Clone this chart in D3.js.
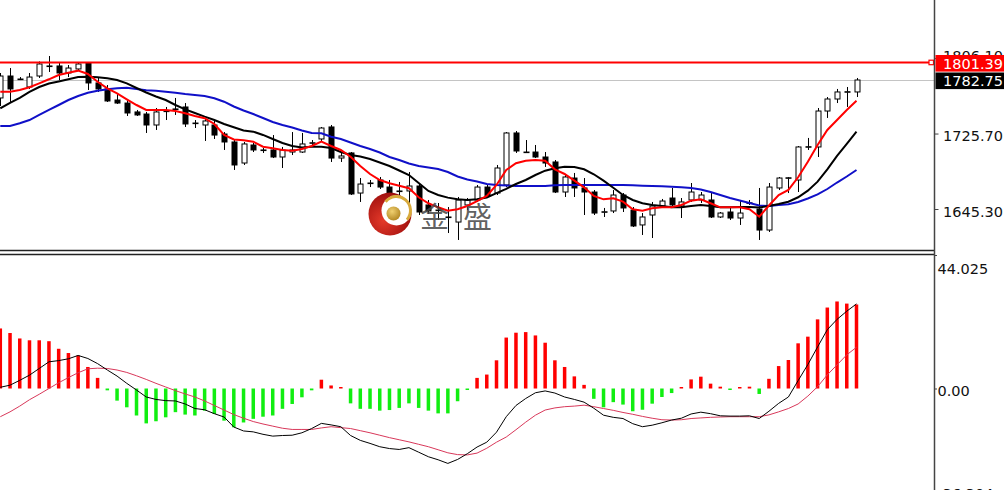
<!DOCTYPE html>
<html><head><meta charset="utf-8">
<script src="https://cdn.jsdelivr.net/npm/d3@7/dist/d3.min.js"></script>
<style>html,body{margin:0;padding:0;background:#fff;overflow:hidden}svg{display:block}</style>
</head><body>
<svg id="c" width="1004" height="490"></svg>
<script>
// ---------- DATA ----------
const openP=[1763.6,1787.0,1783.8,1775.3,1787.0,1797.7,1797.7,1790.2,1794.5,1800.9,
1779.6,1773.2,1761.4,1758.2,1748.7,1746.5,1734.8,1749.7,1751.9,1754.0,
1736.9,1734.8,1734.8,1725.2,1716.7,1694.3,1713.5,1708.2,1708.2,1700.7,
1706.0,1706.0,1715.6,1719.9,1732.7,1699.6,1705.0,1662.3,1673.0,1676.2,
1668.7,1664.5,1664.5,1669.8,1649.6,1644.2,1636.8,1631.4,1649.6,1654.9,
1668.7,1662.3,1670.9,1726.3,1706.0,1706.0,1700.7,1695.4,1663.4,1678.3,
1667.7,1663.4,1642.1,1643.2,1660.2,1644.2,1628.3,1638.9,1648.5,1657.0,
1648.5,1654.9,1654.9,1654.9,1636.8,1642.1,1635.7,1651.7,1645.3,1622.9,
1667.7,1678.3,1676.2,1711.4,1711.4,1749.7,1762.5,1770.0,1770.0];
const highP=[1790.2,1795.5,1785.9,1790.2,1802.5,1808.3,1800.9,1798.7,1801.9,1801.9,
1785.9,1777.4,1768.9,1761.4,1750.8,1748.7,1752.9,1754.0,1763.6,1758.2,
1740.1,1742.3,1740.1,1727.3,1719.9,1716.7,1715.6,1710.3,1724.1,1711.4,
1727.3,1726.3,1718.8,1732.7,1734.8,1706.0,1706.0,1678.3,1676.2,1679.4,
1676.2,1674.1,1684.7,1671.9,1654.9,1651.7,1647.4,1658.1,1657.0,1670.9,
1670.9,1692.2,1727.3,1728.4,1718.8,1713.5,1706.0,1697.5,1681.5,1683.7,
1678.3,1665.5,1646.4,1665.5,1662.3,1647.4,1641.0,1652.8,1656.0,1667.7,
1657.0,1673.0,1663.4,1663.4,1642.1,1646.4,1654.9,1654.9,1667.7,1673.0,
1679.4,1679.4,1712.4,1721.0,1752.9,1764.6,1773.2,1775.3,1784.9];
const lowP=[1755.0,1759.3,1782.7,1773.2,1784.9,1791.3,1782.7,1785.9,1792.3,1772.1,
1770.0,1759.3,1757.2,1744.4,1744.4,1726.3,1729.5,1740.1,1745.5,1732.7,
1731.6,1717.8,1719.9,1708.2,1686.9,1692.2,1706.0,1705.0,1699.6,1689.0,
1702.8,1705.0,1711.4,1716.7,1695.4,1695.4,1660.2,1652.8,1668.7,1666.6,
1660.2,1652.8,1651.7,1638.9,1640.0,1633.6,1619.7,1612.3,1644.2,1652.8,
1658.1,1660.2,1668.7,1705.0,1705.0,1699.6,1690.1,1662.3,1658.1,1658.1,
1638.9,1638.9,1636.8,1641.0,1642.1,1626.1,1617.6,1614.4,1647.4,1647.4,
1635.7,1652.8,1651.7,1635.7,1635.7,1633.6,1628.3,1649.6,1612.3,1620.8,
1665.5,1662.3,1663.4,1708.2,1700.7,1742.3,1758.2,1754.0,1764.6];
const closeP=[1787.0,1773.2,1783.5,1785.9,1799.8,1797.4,1790.2,1795.5,1799.8,1779.6,
1773.2,1760.4,1758.2,1747.6,1745.5,1734.8,1748.7,1749.4,1751.5,1735.9,
1736.6,1739.1,1724.1,1716.7,1692.2,1714.6,1708.2,1707.9,1700.7,1708.2,
1708.2,1714.6,1715.9,1731.6,1699.6,1701.8,1661.3,1671.9,1672.7,1668.7,
1662.3,1664.2,1669.8,1642.1,1643.2,1644.0,1636.5,1654.9,1654.9,1668.7,
1659.2,1689.0,1726.3,1707.1,1705.7,1700.7,1694.3,1663.4,1679.4,1667.7,
1663.4,1641.0,1642.4,1660.2,1646.4,1627.2,1636.8,1648.5,1653.8,1649.6,
1652.8,1663.4,1660.2,1636.8,1641.0,1635.7,1641.0,1651.9,1622.9,1668.7,
1678.3,1678.6,1711.4,1711.7,1749.7,1762.5,1770.0,1770.3,1782.75];

const maFast=[1770.3,1770.3,1772.1,1775.0,1779.2,1783.5,1788.1,1790.5,1792.7,1789.2,
1780.9,1773.9,1768.6,1762.2,1756.1,1750.8,1750.8,1750.8,1749.7,1747.3,
1744.4,1742.0,1735.9,1724.2,1719.4,1718.5,1717.0,1711.7,1710.0,1708.2,
1707.4,1709.2,1712.4,1717.0,1712.4,1708.2,1701.0,1691.1,1682.6,1676.2,
1672.7,1670.1,1667.4,1657.8,1651.4,1647.1,1643.5,1645.0,1648.5,1653.8,
1659.2,1670.9,1686.9,1694.0,1696.8,1697.5,1696.8,1687.6,1682.6,1675.5,
1668.4,1659.2,1655.6,1656.7,1653.1,1645.0,1643.5,1646.1,1647.1,1647.1,
1649.6,1654.2,1655.6,1651.4,1647.1,1647.1,1647.1,1645.0,1637.1,1649.0,
1660.2,1665.6,1679.1,1695.7,1713.5,1729.5,1740.1,1750.8,1760.7];
const maMid=[1752.6,1758.3,1763.6,1770.0,1775.3,1779.0,1781.2,1783.5,1786.0,1786.3,
1785.6,1784.6,1782.8,1779.2,1774.2,1769.4,1765.2,1761.4,1756.1,1751.5,
1747.6,1743.7,1740.1,1735.9,1732.4,1729.0,1727.7,1724.2,1719.9,1715.6,
1712.4,1710.8,1711.6,1711.7,1710.3,1706.0,1702.8,1701.2,1698.6,1694.9,
1691.1,1686.3,1681.5,1673.0,1664.5,1660.2,1657.4,1655.6,1654.9,1655.6,
1657.6,1662.3,1666.8,1671.9,1676.2,1681.5,1686.1,1688.7,1690.4,1690.1,
1687.6,1682.3,1675.5,1668.0,1660.2,1654.9,1651.4,1649.6,1648.5,1647.1,
1647.1,1648.5,1649.6,1648.5,1647.1,1647.1,1647.4,1647.4,1646.9,1648.5,
1650.6,1653.1,1657.8,1664.8,1674.4,1687.6,1701.8,1714.6,1727.7];
const maSlow=[1733.7,1733.7,1736.6,1740.1,1745.5,1750.8,1756.1,1761.4,1765.7,1769.2,
1771.4,1772.9,1773.9,1774.6,1773.2,1771.8,1771.4,1770.3,1769.2,1767.8,
1766.8,1765.7,1763.3,1759.6,1754.5,1750.3,1746.5,1742.3,1738.0,1734.8,
1732.1,1729.0,1726.3,1726.0,1722.3,1719.9,1716.2,1712.4,1709.2,1705.5,
1700.7,1697.5,1693.8,1691.1,1689.5,1687.9,1684.7,1679.9,1676.7,1674.6,
1671.9,1670.9,1670.3,1669.8,1669.8,1669.8,1669.8,1670.6,1670.9,1670.9,
1670.9,1670.9,1670.9,1670.9,1670.9,1670.6,1670.1,1669.8,1669.5,1669.1,
1668.4,1667.7,1666.1,1663.4,1660.2,1657.0,1654.4,1651.7,1649.0,1648.5,
1649.6,1650.3,1652.8,1656.5,1660.8,1666.6,1673.5,1679.9,1686.9];

const macdHist=[19.8,18.3,16.5,15.9,15.9,15.6,13.1,11.7,10.9,7.1,
3.5,-0.6,-4.0,-6.2,-8.9,-11.5,-10.8,-9.5,-7.8,-8.6,
-8.9,-7.3,-8.4,-10.6,-12.8,-11.2,-10.0,-9.3,-8.9,-6.7,
-5.1,-2.9,-0.6,2.9,1.0,0.4,-4.9,-6.7,-6.7,-7.3,
-7.1,-6.4,-4.9,-6.4,-7.3,-8.2,-8.2,-4.2,-0.3,3.5,
4.6,9.3,16.8,18.4,18.6,17.5,15.1,9.3,7.1,4.0,
1.2,-3.4,-6.2,-4.5,-5.3,-7.5,-7.0,-5.0,-2.8,-1.5,
0.4,3.0,3.9,1.6,0.6,-0.3,0.4,0.6,-1.8,3.2,
7.4,9.4,14.9,17.1,22.8,26.7,28.7,28.0,27.7];
const macdLine=[0.4,1.1,2.7,4.4,6.6,8.8,9.2,9.8,10.9,9.9,
8.2,6.1,4.1,1.7,-0.5,-2.8,-3.6,-4.0,-4.1,-5.1,
-6.6,-7.0,-8.3,-9.4,-12.7,-14.0,-14.3,-15.1,-15.7,-15.5,
-15.4,-14.6,-13.2,-11.5,-12.0,-12.6,-15.5,-17.1,-18.1,-19.2,
-19.8,-20.1,-19.5,-21.0,-22.5,-23.5,-24.7,-23.4,-21.5,-19.3,
-17.7,-14.4,-9.3,-5.6,-3.3,-1.4,-0.8,-1.5,-2.8,-3.6,
-4.5,-6.5,-8.8,-9.5,-9.9,-11.6,-12.6,-12.1,-11.3,-10.4,
-9.8,-8.4,-7.8,-8.3,-9.0,-9.1,-9.1,-9.0,-9.9,-7.5,
-4.9,-2.8,2.6,7.9,13.7,19.4,22.8,25.5,27.9];
const signalLine=[-9.3,-7.7,-5.8,-3.7,-1.9,0.0,1.9,3.6,5.2,6.5,
6.7,6.6,6.1,5.3,4.2,3.0,1.7,0.5,-0.7,-1.8,
-2.8,-4.1,-5.6,-7.1,-8.6,-9.8,-10.9,-11.7,-12.4,-13.1,
-13.5,-13.5,-13.5,-13.0,-12.6,-12.9,-13.2,-13.9,-14.6,-15.4,
-16.2,-16.9,-17.6,-18.4,-19.2,-20.2,-21.2,-21.8,-21.9,-21.3,
-19.7,-17.7,-16.0,-13.6,-11.1,-8.8,-7.1,-6.4,-6.0,-5.8,
-5.5,-6.0,-6.6,-7.2,-7.9,-8.5,-9.2,-9.8,-10.3,-10.4,
-10.3,-9.9,-9.7,-9.5,-9.4,-9.3,-9.3,-9.3,-9.3,-8.7,
-7.7,-6.6,-5.1,-2.5,0.6,4.5,7.8,11.1,13.6];

const priceTicks=[1806.10,1725.70,1645.30];
const priceTickLabels=["1806.10","1725.70","1645.30"];
const resistanceLevel=1801.39, resistanceLabel="1801.39";
const bidLevel=1782.75, bidLabel="1782.75";
const macdTicks=[44.025,0,-36.304];
const macdTickLabels=["44.025","0.00","-36.304"];
const watermarkText="金盛";

// ---------- LAYOUT ----------
const W=1004,H=490, axisX=934.5;
const svg=d3.select("#c");
const n=closeP.length;
const x=d3.scaleLinear().domain([0,n-1]).range([0.3,856.5]);
const y=d3.scaleLinear().domain([1645.30,1801.39]).range([209,62.5]);
const y2=d3.scaleLinear().domain([-36.304,44.025]).range([498.6,255]);
const font='"DejaVu Sans", Verdana, sans-serif';

const defs=svg.append("defs");
defs.append("clipPath").attr("id","cm").append("rect").attr("x",0).attr("y",0).attr("width",axisX).attr("height",250);
defs.append("clipPath").attr("id","cl").append("rect").attr("x",0).attr("y",255).attr("width",axisX).attr("height",235);
const rg=defs.append("radialGradient").attr("id","rg").attr("cx","35%").attr("cy","65%").attr("r","70%");
rg.append("stop").attr("offset","0%").attr("stop-color","#e53a2a");
rg.append("stop").attr("offset","100%").attr("stop-color","#9a0c0c");
const gg=defs.append("radialGradient").attr("id","gg").attr("cx","40%").attr("cy","35%").attr("r","70%");
gg.append("stop").attr("offset","0%").attr("stop-color","#f0d070");
gg.append("stop").attr("offset","100%").attr("stop-color","#b08420");

// ---------- MAIN PANEL ----------
const main=svg.append("g").attr("clip-path","url(#cm)");
main.append("line").attr("x1",0).attr("x2",axisX).attr("y1",Math.round(y(bidLevel))+0.5).attr("y2",Math.round(y(bidLevel))+0.5)
  .attr("stroke","#c4c4c4").attr("stroke-width",1);

const idx=d3.range(n);
const cx=i=>Math.round(x(i))+0.5;
main.append("g").selectAll("line").data(idx).join("line")
  .attr("x1",cx).attr("x2",cx).attr("y1",i=>y(highP[i])).attr("y2",i=>y(lowP[i]))
  .attr("stroke","#000").attr("stroke-width",1);
main.append("g").selectAll("rect").data(idx).join("rect")
  .attr("x",i=>cx(i)-2.5).attr("width",5)
  .attr("y",i=>y(Math.max(openP[i],closeP[i])))
  .attr("height",i=>Math.max(0.6,Math.abs(y(openP[i])-y(closeP[i]))))
  .attr("fill",i=>closeP[i]>=openP[i]?"#fff":"#000")
  .attr("stroke","#000").attr("stroke-width",1);

const lineP=d3.line().x((d,i)=>x(i)).y(d=>y(d));
main.append("path").attr("d",lineP(maSlow)).attr("fill","none").attr("stroke","#1010c8").attr("stroke-width",2);
main.append("path").attr("d",lineP(maMid)).attr("fill","none").attr("stroke","#000").attr("stroke-width",2);
main.append("path").attr("d",lineP(maFast)).attr("fill","none").attr("stroke","#f00").attr("stroke-width",2);

main.append("line").attr("x1",0).attr("x2",axisX).attr("y1",y(resistanceLevel)).attr("y2",y(resistanceLevel))
  .attr("stroke","#f00").attr("stroke-width",2);
svg.append("rect").attr("x",929).attr("y",y(resistanceLevel)-2.3).attr("width",4.5).attr("height",4.5)
  .attr("fill","#fff").attr("stroke","#f00").attr("stroke-width",1.2);

// watermark
const wm=svg.append("g");
wm.append("circle").attr("cx",390).attr("cy",214).attr("r",21.5).attr("fill","url(#rg)");
wm.append("circle").attr("cx",396.5).attr("cy",210.5).attr("r",15).attr("fill","#fff");
wm.append("path").attr("transform","translate(396.5,210.5)")
  .attr("d",d3.arc().innerRadius(12.5).outerRadius(15.5).startAngle(-0.9).endAngle(2.3)())
  .attr("fill","#d8aa3c");
wm.append("circle").attr("cx",393.5).attr("cy",213.5).attr("r",7).attr("fill","url(#gg)");
wm.append("text").attr("x",420).attr("y",228).attr("font-family",'"Noto Sans CJK SC", sans-serif')
  .attr("font-size",29).attr("letter-spacing",14).attr("fill","#454545").attr("fill-opacity",0.85).text(watermarkText);

// ---------- LOWER PANEL ----------
const low=svg.append("g").attr("clip-path","url(#cl)");
low.append("g").selectAll("rect").data(idx).join("rect")
  .attr("x",i=>x(i)-1.75).attr("width",3.5)
  .attr("y",i=>macdHist[i]>=0?Math.min(y2(macdHist[i]),y2(0)-1.5):y2(0))
  .attr("height",i=>Math.max(1.5,Math.abs(y2(macdHist[i])-y2(0))))
  .attr("fill",i=>macdHist[i]>=0?"#ff0000":"#11ee11");
const lineM=d3.line().x((d,i)=>x(i)).y(d=>y2(d));
low.append("path").attr("d",lineM(signalLine)).attr("fill","none").attr("stroke","#d8385a").attr("stroke-width",1);
low.append("path").attr("d",lineM(macdLine)).attr("fill","none").attr("stroke","#000").attr("stroke-width",1);

// ---------- FRAMES ----------
svg.append("line").attr("x1",0).attr("x2",axisX).attr("y1",250.5).attr("y2",250.5).attr("stroke","#222").attr("stroke-width",1.3);
svg.append("line").attr("x1",0).attr("x2",axisX).attr("y1",254.5).attr("y2",254.5).attr("stroke","#222").attr("stroke-width",1.3);
svg.append("line").attr("x1",axisX).attr("x2",axisX).attr("y1",0).attr("y2",H).attr("stroke","#444").attr("stroke-width",1.5);

// ---------- AXES ----------
const ax1=svg.append("g").attr("transform",`translate(${axisX},0)`)
  .call(d3.axisRight(y).tickValues(priceTicks).tickSize(4).tickPadding(4.5).tickFormat((d,i)=>priceTickLabels[i]));
ax1.select(".domain").remove();
ax1.selectAll("line").attr("stroke","#444");
ax1.selectAll("text").attr("font-family",font).attr("font-size",14.5).attr("fill","#111").attr("dy","0.5em");
ax1.selectAll("text").filter((d,i)=>i===0).attr("dy","0.1em").attr("y",1);

const ax2=svg.append("g").attr("transform",`translate(${axisX},0)`)
  .call(d3.axisRight(y2).tickValues(macdTicks).tickSize(2.5).tickPadding(0.5).tickFormat((d,i)=>macdTickLabels[i]));
ax2.select(".domain").remove();
ax2.selectAll("line").attr("stroke","#444");
ax2.selectAll("text").attr("font-family",font).attr("font-size",14.5).attr("fill","#111").attr("dy","0.5em");
ax2.selectAll("text").filter((d,i)=>i===0).attr("y",11);
ax2.selectAll("text").filter((d,i)=>i===2).attr("y",-7);

function priceBox(v,label,color){
  const yc=y(v)+0.8;
  svg.append("rect").attr("x",935.5).attr("y",yc-8.3).attr("width",W-935.5).attr("height",16.6).attr("fill",color);
  svg.append("text").attr("x",943).attr("y",yc).attr("dy","0.36em").attr("font-family",font).attr("font-size",14.5)
    .attr("fill","#fff").text(label);
}
priceBox(resistanceLevel,resistanceLabel,"#ff0000");
priceBox(bidLevel,bidLabel,"#000");
</script>
</body></html>
